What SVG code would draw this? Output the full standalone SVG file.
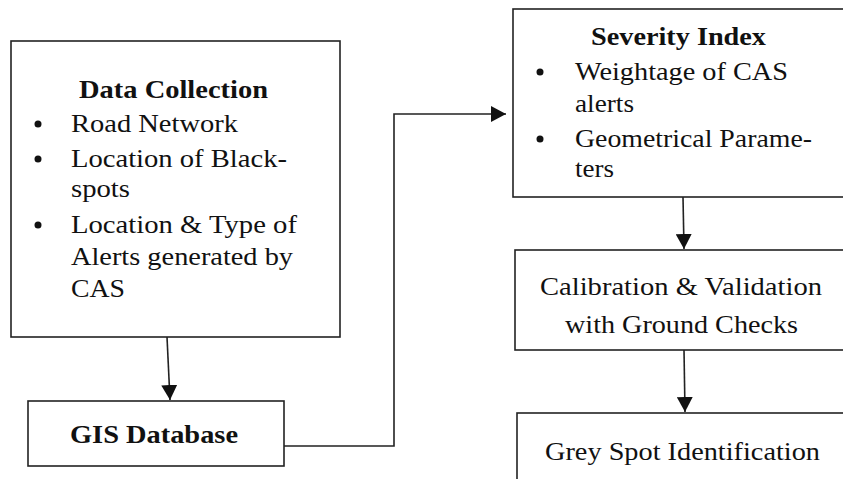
<svg xmlns="http://www.w3.org/2000/svg" width="843" height="479" viewBox="0 0 843 479">
<style>
.box{fill:#fff;stroke:#222;stroke-width:1.6}
.t{font-family:'Liberation Serif',serif;font-size:26px;fill:#111}
.b{font-weight:bold}
.c{fill:none;stroke:#222;stroke-width:1.6}
.dot{fill:#111}
</style>
<defs>
<marker id="ah" markerWidth="16" markerHeight="16" refX="15" refY="8" orient="auto" markerUnits="userSpaceOnUse" viewBox="0 0 16 16">
<path d="M0,0 L15,8 L0,16 z" fill="#111"/>
</marker>
</defs>
<rect width="843" height="479" fill="#fff"/>
<g id="connectors">
<line class="c" x1="167" y1="337" x2="170" y2="400" marker-end="url(#ah)"/>
<polyline class="c" points="284,446 394,446 394,114 506,114" marker-end="url(#ah)"/>
<line class="c" x1="683" y1="197" x2="684" y2="249" marker-end="url(#ah)"/>
<line class="c" x1="684" y1="350" x2="685" y2="412" marker-end="url(#ah)"/>
</g>
<g id="data-collection">
<rect class="box" x="11" y="41" width="329" height="296"/>
<text class="t b" x="79" y="98" textLength="189" lengthAdjust="spacingAndGlyphs">Data Collection</text>
<circle class="dot" cx="38" cy="124" r="3.5"/>
<text class="t" x="71" y="132" textLength="167" lengthAdjust="spacingAndGlyphs">Road Network</text>
<circle class="dot" cx="38" cy="159" r="3.5"/>
<text class="t" x="71" y="167" textLength="216" lengthAdjust="spacingAndGlyphs">Location of Black-</text>
<text class="t" x="71" y="197" textLength="59" lengthAdjust="spacingAndGlyphs">spots</text>
<circle class="dot" cx="38" cy="225" r="3.5"/>
<text class="t" x="71" y="233" textLength="226" lengthAdjust="spacingAndGlyphs">Location &amp; Type of</text>
<text class="t" x="71" y="265" textLength="222" lengthAdjust="spacingAndGlyphs">Alerts generated by</text>
<text class="t" x="71" y="297" textLength="54" lengthAdjust="spacingAndGlyphs">CAS</text>
</g>
<g id="gis-database">
<rect class="box" x="28" y="401" width="256" height="65"/>
<text class="t b" x="70" y="443" textLength="168" lengthAdjust="spacingAndGlyphs">GIS Database</text>
</g>
<g id="severity-index">
<rect class="box" x="513" y="9" width="340" height="188"/>
<text class="t b" x="591" y="45" textLength="175" lengthAdjust="spacingAndGlyphs">Severity Index</text>
<circle class="dot" cx="540" cy="72" r="3.5"/>
<text class="t" x="575" y="80" textLength="213" lengthAdjust="spacingAndGlyphs">Weightage of CAS</text>
<text class="t" x="575" y="112" textLength="59" lengthAdjust="spacingAndGlyphs">alerts</text>
<circle class="dot" cx="540" cy="139" r="3.5"/>
<text class="t" x="575" y="147" textLength="237" lengthAdjust="spacingAndGlyphs">Geometrical Parame-</text>
<text class="t" x="575" y="177" textLength="39" lengthAdjust="spacingAndGlyphs">ters</text>
</g>
<g id="calibration">
<rect class="box" x="515" y="250" width="340" height="100"/>
<text class="t" x="540" y="295" textLength="282" lengthAdjust="spacingAndGlyphs">Calibration &amp; Validation</text>
<text class="t" x="565" y="333" textLength="233" lengthAdjust="spacingAndGlyphs">with Ground Checks</text>
</g>
<g id="grey-spot">
<rect class="box" x="517" y="413" width="340" height="80"/>
<text class="t" x="545" y="460" textLength="275" lengthAdjust="spacingAndGlyphs">Grey Spot Identification</text>
</g>
</svg>
